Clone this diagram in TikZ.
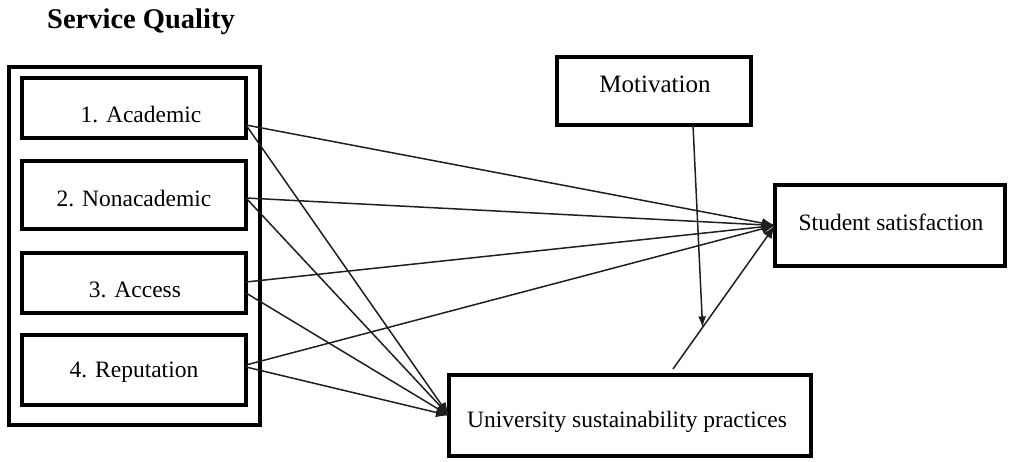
\documentclass[tikz,border=0pt]{standalone}
\usepackage{fontspec}
\setmainfont{Liberation Serif}
\usetikzlibrary{arrows.meta,calc}
\begin{document}
\begin{tikzpicture}[x=1pt,y=-1pt,
  box/.style={draw=black,line width=3.5pt,inner sep=0pt,outer sep=0pt},
  lbl/.style={anchor=base,inner sep=0pt,font=\fontsize{23.5}{28}\selectfont},
  conn/.style={draw=black!88,line width=1.5pt},
  big/.style={-{Latex[length=13pt,width=10pt]}},
  small/.style={-{Latex[length=11pt,width=8pt]}}]
\useasboundingbox (0,0) rectangle (1010,462);
% title
\node[anchor=base,inner sep=0pt,font=\fontsize{28.5}{34}\selectfont\bfseries] (title) at (141,29) {Service Quality};
% outer group
\node[box,line width=4pt,minimum width=251pt,minimum height=358pt] (sq) at (134.5,246) {};
% inner boxes
\node[box,minimum width=224pt,minimum height=60pt] (acad) at (134,108) {};
\node[box,minimum width=224pt,minimum height=68pt] (nonac) at (134,195) {};
\node[box,minimum width=224pt,minimum height=60pt] (acc) at (134,283) {};
\node[box,minimum width=224pt,minimum height=70pt] (rep) at (134,370) {};
\node[lbl] (tacad) at (141,123) {1. Academic};
\node[lbl] (tnonac) at (134,207) {2. Nonacademic};
\node[lbl] (tacc) at (135,298) {3. Access};
\node[lbl] (trep) at (134,378) {4. Reputation};
% right boxes
\node[box,minimum width=194pt,minimum height=68pt] (mot) at (654,91) {};
\node[lbl,font=\fontsize{25}{30}\selectfont] (tmot) at (655,93) {Motivation};
\node[box,minimum width=230pt,minimum height=81pt] (ss) at (890,225.5) {};
\node[lbl] (tss) at (891,231) {Student satisfaction};
\node[box,minimum width=362pt,minimum height=81pt] (usp) at (630,415.5) {};
\node[lbl] (tusp) at (627,428) {University sustainability practices};
% connectors to student satisfaction
\draw[conn,big] ($(acad.east)+(0,17)$) -- (ss.west);
\draw[conn,big] ($(nonac.east)+(0,3)$) -- (ss.west);
\draw[conn,big] ($(acc.east)+(0,-1)$) -- (ss.west);
\draw[conn,big] ($(rep.east)+(0,-5)$) -- (ss.west);
% connectors to sustainability practices
\draw[conn,big] ($(acad.east)+(0,17)$) -- (usp.west);
\draw[conn,big] ($(nonac.east)+(0,3)$) -- (usp.west);
\draw[conn,big] ($(acc.east)+(0,10)$) -- (usp.west);
\draw[conn,big] ($(rep.east)+(0,-3)$) -- (usp.west);
% sustainability -> satisfaction
\coordinate (uspout) at ($(usp.north)+(43,-6)$);
\draw[conn,big] (uspout) -- coordinate[pos=0.29] (modpt) (ss.west);
% motivation moderation
\draw[conn,small] ($(mot.south)+(39,0)$) -- (modpt);
\end{tikzpicture}
\end{document}
